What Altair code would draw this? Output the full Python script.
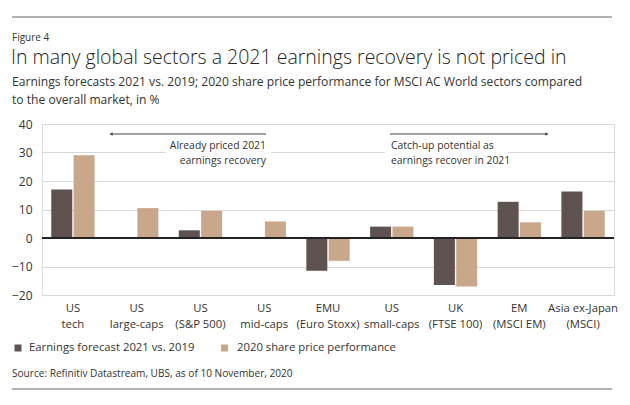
import altair as alt
import pandas as pd

categories = ["US|tech", "US|large-caps", "US|(S&P 500)", "US|mid-caps", "EMU|(Euro Stoxx)",
              "US|small-caps", "UK|(FTSE 100)", "EM|(MSCI EM)", "Asia ex-Japan|(MSCI)"]
earnings = [17.0, 0.3, 2.7, -0.2, -11.5, 4.0, -16.5, 12.7, 16.3]
performance = [29.0, 10.5, 9.5, 5.8, -8.0, 4.0, -17.0, 5.5, 9.5]
series = ["Earnings forecast 2021 vs. 2019", "2020 share price performance"]
colors = ["#5e5350", "#c9a78b"]
y_ticks = [-20, -10, 0, 10, 20, 30, 40]

FONT = "Open Sans"
W, H = 572, 171

rows = []
for c, e, p in zip(categories, earnings, performance):
    rows.append({"cat": c, "series": series[0], "value": e})
    rows.append({"cat": c, "series": series[1], "value": p})
df = pd.DataFrame(rows)

color_scale = alt.Scale(domain=series, range=colors)
y_scale = alt.Scale(domain=[-20, 40], nice=False, zero=False)
y_axis = alt.Axis(title=None, values=y_ticks, tickCount=7, labelOverlap=False,
                  domain=False, ticks=False,
                  labelPadding=10, labelFontSize=12, labelColor="#333", labelFont=FONT,
                  gridColor="#d6d6d6", gridWidth=1.2)

bars = alt.Chart(df).mark_bar(size=21).encode(
    x=alt.X("cat:N", sort=categories,
            scale=alt.Scale(paddingInner=0.31, paddingOuter=0.14),
            axis=alt.Axis(title=None, labelAngle=0, labelExpr="split(datum.label, '|')",
                          domain=False, ticks=False, labelPadding=7, labelFontSize=11.3,
                          labelLineHeight=16, labelColor="#333", labelFont=FONT, grid=False)),
    xOffset=alt.XOffset("series:N", sort=series, scale=alt.Scale(paddingInner=0.03)),
    y=alt.Y("value:Q", scale=y_scale, axis=y_axis),
    color=alt.Color("series:N", scale=color_scale, legend=None),
)

one = pd.DataFrame({"v": [0]})

zero = alt.Chart(one).mark_rule(color="#222", strokeWidth=2).encode(
    y=alt.Y("v:Q", scale=y_scale, axis=y_axis), x=alt.value(0), x2=alt.value(W))

def rect(x1, x2, y1, y2, fill="white"):
    return alt.Chart(one).mark_rect(fill=fill).encode(
        x=alt.value(x1), x2=alt.value(x2), y=alt.value(y1), y2=alt.value(y2))

def txt(s, x, y, size=12, align="left", color="#333", weight=400, baseline="middle"):
    return alt.Chart(one).mark_text(text=s, align=align, baseline=baseline, fontSize=size,
                                    font=FONT, color=color, fontWeight=weight).encode(
        x=alt.value(x), y=alt.value(y))

def hline(x1, x2, y, color="#999", width=1.5):
    return alt.Chart(one).mark_rule(color=color, strokeWidth=width).encode(
        x=alt.value(x1), x2=alt.value(x2), y=alt.value(y))

def tri(x, y, shape):
    return alt.Chart(one).mark_point(shape=shape, filled=True, size=14, color="#444", opacity=1).encode(
        x=alt.value(x), y=alt.value(y))

layers = [
    bars,
    rect(124, 229, 16, 44),
    rect(343, 466, 16, 44),
    zero,
    hline(70, 224, 10, "#444", 1),
    tri(69, 10, "triangle-left"),
    txt("Already priced 2021", 224, 22, 10.4, "right"),
    txt("earnings recovery", 224, 37, 10.4, "right"),
    hline(348, 504, 10, "#444", 1),
    tri(505, 10, "triangle-right"),
    txt("Catch-up potential as", 349, 22, 10.4),
    txt("earnings recover in 2021", 349, 37, 10.4),
    # header
    hline(-30, 570, -107, "#9a9a9a", 1.5),
    txt("Figure 4", -30, -86, 10),
    txt("In many global sectors a 2021 earnings recovery is not priced in", -31, -66, 19.5, weight=300, color="#222"),
    txt("Earnings forecasts 2021 vs. 2019; 2020 share price performance for MSCI AC World sectors compared",
        -30, -42, 12.1),
    txt("to the overall market, in %", -30, -24, 12.1),
    # legend
    rect(-27.5, -20.5, 220.5, 227.5, colors[0]),
    txt(series[0], -13, 224, 11.3),
    rect(179, 186, 220.5, 227.5, colors[1]),
    txt(series[1], 195, 224, 11.3),
    # source + bottom rule
    txt("Source: Refinitiv Datastream, UBS, as of 10 November, 2020", -30, 250, 10.1),
    hline(-30, 570, 265, "#9a9a9a", 1.5),
]

chart = alt.layer(*layers).properties(
    width=W, height=H,
    autosize=alt.AutoSizeParams(type="none"),
    padding={"left": 34, "top": 116, "right": 8, "bottom": 104},
).configure_view(stroke=None).configure(background="white")

chart.save("out.html", embed_options={"renderer": "svg", "actions": False})
